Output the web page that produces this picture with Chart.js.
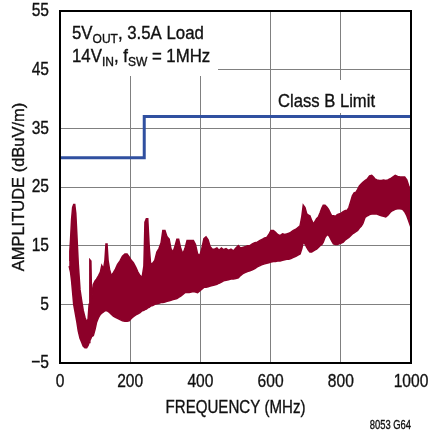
<!DOCTYPE html>
<html><head><meta charset="utf-8">
<script src="https://cdn.jsdelivr.net/npm/chart.js@4/dist/chart.umd.min.js"></script>
<style>html,body{margin:0;padding:0;background:#fff}#wrap{width:434px;height:431px;position:relative}</style>
</head><body><div id="wrap"><canvas id="c" width="434" height="431"></canvas></div>
<script>
// ---- data ----
const freqMHz = [26,28,30,33,36,39,42,45,48,52,57,62,66,71,76,80,83,85,88,90,95,100,104,110,115,119,124,128,131,134,137,141,146,152,158,164,171,178,185,191,197,203,209,216,222,228,234,239,242,246,250,254,258,264,270,276,282,288,293,299,305,311,316,322,328,333,338,344,350,356,362,368,374,380,386,392,398,404,410,416,422,428,434,440,447,453,460,466,473,480,487,494,501,508,514,520,527,534,541,548,555,562,570,577,583,589,595,601,608,614,620,627,634,640,646,652,658,665,672,678,684,689,693,698,703,708,712,717,722,727,731,736,741,746,750,755,760,765,769,774,779,785,790,795,800,807,813,818,823,828,833,838,843,848,853,858,863,869,876,882,888,893,897,903,910,916,922,928,934,941,948,955,962,969,976,982,988,993,997,1000];
const upperDb = [12.5,14,16,19.5,21.5,22,22,20.5,17,12,7.5,5.5,4,2.8,2,2.5,5,12.6,12.4,6,8.4,9,9.3,9.9,10.5,11.6,11,12.5,15.3,15.3,12.5,11,9.9,10.4,11,11.8,12.4,13.2,13.6,13.6,13.1,12.5,12.1,11.3,10.5,9.9,9.6,11.5,19,19.6,19.6,15,11.9,12,12.5,13.9,14.5,15.5,17.6,17.6,16.5,16.1,14.5,13.9,15,16.1,16.1,14.5,13.6,14.5,15.9,15.9,15.9,15.9,15.2,13.6,13.3,14.5,16.2,16.5,16,14.8,14.4,14.4,14.6,14.2,14.6,14.3,14.5,14.2,14.4,14.1,14.6,15,14.6,14.7,14.8,15,15,15.3,15.5,15.6,15.9,16.1,16.3,16.4,16.9,17.6,17.6,17.3,16.9,16.7,17,16.9,17,17.1,17.3,17.6,17.8,18.1,18.4,20,21.9,21.5,20.4,20.2,20.1,19.3,18.7,19.2,19.6,19.9,20.6,21.4,21.9,21.9,21.6,21.2,20.7,20.1,20.1,20,20.3,20.4,20.5,20.8,21,21,21.5,22.5,23.5,24,24.1,24.6,25.2,25.5,25.8,26.1,26.4,26.9,27,26.7,26.4,26.2,26.1,26.1,26.2,26.1,26.2,26.4,26.7,27,26.8,26.7,26.7,26.7,26.2,25.3,24.7,24.1];
const lowerDb = [11.5,11,10.5,9,7,5,4,3,2,0.5,-0.8,-1.5,-2.1,-2.4,-2.4,-2,-1.5,-1.2,-0.8,-0.5,-0.3,0.8,1.9,2.8,3.3,3.5,3.7,3.9,3.9,3.9,3.8,3.6,3.3,3,2.8,2.6,2.4,2.2,2.1,2.1,2.2,2.6,2.9,3.2,3.4,3.6,3.9,4,4.1,4.2,4.4,4.5,4.7,4.8,5,5.1,5.2,5.3,5.3,5.4,5.5,5.6,5.7,5.8,5.9,6,6.2,6.4,6.7,7,7,7,7.1,7.2,7.1,7,7.3,7.6,7.9,7.9,8,8.1,8.2,8.3,8.4,8.6,8.8,9,9.1,9.2,9.3,9.3,9.4,9.5,9.9,10.2,10.4,10.6,10.7,10.9,11.1,11.4,11.6,11.8,11.9,12,12.1,12.2,12.3,12.3,12.4,12.4,12.5,12.6,12.7,12.7,12.8,13,13.2,13.4,13.6,14.5,15.6,15.3,14.7,14.2,13.9,13.9,14.1,14.3,14.4,14.7,15,15.2,15.6,16.4,16.8,16.8,16.4,15.8,15.3,15.2,15.2,15.3,15.4,15.6,16,16.2,16.4,16.7,17,17.2,17.4,17.6,18,18.3,18.8,19.8,20.1,20.3,20.4,20.4,20.4,20.4,20.2,20.1,20,19.9,20.2,20.7,21,21.2,21.3,21.3,21.2,20.8,20.1,19.3,18.6,18.1];
const limitFreq = [0,240,240,1000];
const limitDb = [30,30,37,37];
const xTicks = [0,200,400,600,800,1000];
const yTicks = [-5,5,15,25,35,45,55];

// ---- styles ----
const FAM = '"Liberation Sans", Arial, sans-serif';
const RED = '#8c0029';
const BLUE = '#3050a0';
const TXT = '#111';

const canvas = document.getElementById('c');
const ctx0 = canvas.getContext('2d');
// condensed text rendering: compress glyphs horizontally around the anchor point
ctx0._hs = 0.82;
const origFill = ctx0.fillText.bind(ctx0);
const origStroke = ctx0.strokeText.bind(ctx0);
ctx0.fillText = function(text, x, y, maxW){
  this.save();
  this.translate(x, y);
  this.scale(this._hs, 1);
  origFill(text, 0, 0);
  this.strokeStyle = this.fillStyle;
  this.lineWidth = 0.35;
  origStroke(text, 0, 0);
  this.restore();
};
const tw = (ctx, t) => ctx.measureText(t).width * ctx._hs;

function drawRich(ctx, x, y, parts, size, subSize, subDrop){
  let cx = x;
  for (const p of parts){
    ctx.font = (p.sub ? subSize : size) + 'px ' + FAM;
    ctx.textAlign = 'left';
    ctx.fillText(p.t, cx, p.sub ? y + subDrop : y);
    cx += tw(ctx, p.t);
  }
}

const annot = {
  id: 'annot',
  beforeDraw(chart){ chart.ctx._hs = 0.82; },
  beforeDatasetsDraw(chart){
    const ctx = chart.ctx, a = chart.chartArea;
    ctx.save();
    ctx.fillStyle = '#fff';
    ctx.fillRect(a.left + 1, a.top + 1, 157, 64);
    ctx.fillRect(273, 80, 107, 33);
    ctx.restore();
  },
  afterDraw(chart){
    const ctx = chart.ctx, a = chart.chartArea;
    ctx.save();
    ctx.strokeStyle = '#000';
    ctx.lineWidth = 2;
    ctx.strokeRect(a.left, a.top, a.right - a.left, a.bottom - a.top);
    ctx.fillStyle = TXT;
    ctx.textBaseline = 'alphabetic';
    ctx._hs = 0.96;
    drawRich(ctx, 72, 39, [{t:'5V'},{t:'OUT',sub:true},{t:', 3.5A Load'}], 17.5, 12.5, 4);
    drawRich(ctx, 72, 61.5, [{t:'14V'},{t:'IN',sub:true},{t:', f'},{t:'SW',sub:true},{t:' = 1MHz'}], 17.5, 12.5, 4);
    ctx._hs = 0.875;
    ctx.textAlign = 'left';
    ctx.font = '19px ' + FAM;
    ctx.fillText('Class B Limit', 278, 107);
    ctx._hs = 0.82;
    ctx.textAlign = 'center';
    ctx.font = '18.4px ' + FAM;
    ctx.fillText('FREQUENCY (MHz)', (a.left + a.right) / 2, 412.5);
    ctx.save();
    ctx.translate(24, 187);
    ctx.rotate(-Math.PI / 2);
    ctx._hs = 0.97;
    ctx.font = '17px ' + FAM;
    ctx.fillText('AMPLITUDE (dBuV/m)', 0, 0);
    ctx.restore();
    ctx._hs = 0.75;
    ctx.textAlign = 'right';
    ctx.font = '12.5px ' + FAM;
    ctx.fillText('8053 G64', 411, 429);
    ctx.restore();
    ctx._hs = 0.82;
  }
};

const pts = (xs, ys) => xs.map((x, i) => ({x, y: ys[i]}));

new Chart(canvas, {
  type: 'line',
  data: {
    datasets: [
      {data: pts(freqMHz, upperDb), borderColor: RED, backgroundColor: RED, borderWidth: 1.5, pointRadius: 0, fill: '+1', tension: 0},
      {data: pts(freqMHz, lowerDb), borderColor: RED, backgroundColor: RED, borderWidth: 1.5, pointRadius: 0, fill: false, tension: 0},
      {data: pts(limitFreq, limitDb), borderColor: BLUE, borderWidth: 3, pointRadius: 0, fill: false, tension: 0}
    ]
  },
  options: {
    responsive: false,
    devicePixelRatio: 1,
    animation: false,
    layout: {padding: {top: 11, right: 23, left: 0, bottom: 0}},
    plugins: {legend: {display: false}, tooltip: {enabled: false}},
    scales: {
      x: {
        type: 'linear', min: 0, max: 1000,
        afterBuildTicks: s => { s.ticks = xTicks.map(v => ({value: v})); },
        afterFit: s => { s.height = 68; s.paddingLeft = 0; s.paddingRight = 0; },
        ticks: {color: TXT, font: {family: FAM, size: 19}, padding: 7, maxRotation: 0, autoSkip: false,
                callback: v => String(v)},
        grid: {color: '#808080', lineWidth: 1, drawTicks: false},
        border: {display: true, color: '#000', width: 2}
      },
      y: {
        type: 'linear', min: -5, max: 55,
        afterBuildTicks: s => { s.ticks = yTicks.map(v => ({value: v})); },
        afterFit: s => { s.width = 60; s.paddingTop = 0; s.paddingBottom = 0; },
        ticks: {color: TXT, font: {family: FAM, size: 19}, padding: 11, autoSkip: false,
                callback: v => String(v).replace('-', '\u2212')},
        grid: {color: '#808080', lineWidth: 1, drawTicks: false},
        border: {display: true, color: '#000', width: 2}
      }
    }
  },
  plugins: [annot]
});
</script>
</body></html>
